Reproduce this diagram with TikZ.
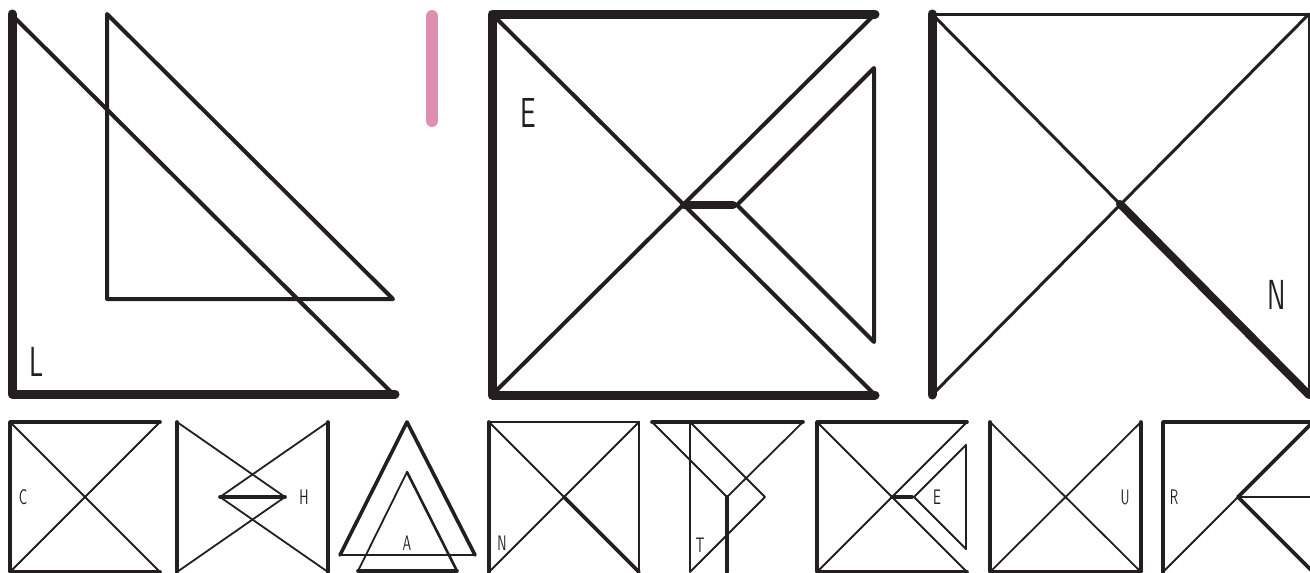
\documentclass[tikz,border=0pt]{standalone}
\usepackage{fontspec}
\usepackage{xcolor}
\newfontfamily\glyphfont{lmsans10-regular.otf}[FakeStretch=0.62]
\definecolor{ink}{HTML}{231F20}
\definecolor{barpink}{HTML}{DE8FB2}

\begin{document}
\begin{tikzpicture}[
  x=1pt, y=-1pt, line cap=round, line join=round,
  heavy/.style={draw=ink, line width=9pt},
  midline/.style={draw=ink, line width=4pt},
  thinline/.style={draw=ink, line width=3pt},
  sheavy/.style={draw=ink, line width=3.6pt},
  smid/.style={draw=ink, line width=2.6pt},
  slight/.style={draw=ink, line width=1.8pt},
  biglabel/.style={font=\fontsize{42}{42}\selectfont\glyphfont, inner sep=0pt, text=ink},
  smalllabel/.style={font=\fontsize{21}{21}\selectfont\glyphfont, inner sep=0pt, text=ink},
]
  \useasboundingbox (0,0) rectangle (1310,573);
  \clip (0,0) rectangle (1310,573);

  % TOP ROW: L
  \draw[heavy] (12,14) -- (12,394) -- (395,394);
  \draw[midline] (13,16) -- (392,393);
  \draw[midline] (107,14) -- (107,299) -- (393,299) -- cycle;
  \node[biglabel] (bigl) at (37,362) {L};

  % pink bar
  \draw[barpink, line width=12pt] (432,16) -- (432,121);

  % TOP ROW: E
  \draw[heavy] (875,14) -- (492,14) -- (492,395) -- (875,395);
  \draw[midline] (492,14) -- (875,395);
  \draw[midline] (875,14) -- (492,395);
  \draw[heavy, line width=8pt] (684,205) -- (733,205);
  \draw[midline] (737,205) -- (874,68) -- (874,342) -- cycle;
  \node[biglabel] (bige) at (528,113) {E};

  % TOP ROW: N
  \draw[heavy] (932,14) -- (932,395);
  \draw[thinline] (932,14) -- (1309,14) -- (1309,395);
  \draw[thinline] (1309,14) -- (932,395);
  \draw[thinline] (932,14) -- (1120,204);
  \draw[heavy, line width=8pt] (1120,204) -- (1309,395);
  \node[biglabel] (bign) at (1277,295) {N};

  % BOTTOM ROW: C
  \draw[sheavy] (160,422) -- (10,422) -- (10,572) -- (160,572);
  \draw[slight] (10,422) -- (160,572);
  \draw[slight] (160,422) -- (10,572);
  \node[smalllabel] (smc) at (23,497) {C};

  % BOTTOM ROW: H
  \draw[sheavy] (177,422) -- (177,572);
  \draw[sheavy] (328,422) -- (328,572);
  \draw[slight] (177,422) -- (285,497) -- (177,572);
  \draw[slight] (328,422) -- (220,497) -- (328,572);
  \draw[sheavy] (220,497) -- (285,497);
  \node[smalllabel] (smh) at (304,497) {H};

  % BOTTOM ROW: A
  \draw[sheavy] (340,555) -- (407,422) -- (475,555);
  \draw[slight] (340,555) -- (475,555);
  \draw[slight] (358,571) -- (407,472);
  \draw[smid] (407,472) -- (457,571);
  \draw[sheavy] (358,571) -- (457,571);
  \node[smalllabel] (sma) at (407,543) {A};

  % BOTTOM ROW: N
  \draw[sheavy] (489,422) -- (489,572);
  \draw[slight] (489,422) -- (639,422);
  \draw[smid] (639,422) -- (639,572);
  \draw[slight] (489,422) -- (564,497);
  \draw[sheavy] (564,497) -- (639,572);
  \draw[slight] (639,422) -- (489,572);
  \node[smalllabel] (smn) at (502,543) {N};

  % BOTTOM ROW: T
  \draw[sheavy] (652,422) -- (803,422);
  \draw[slight] (652,422) -- (727,497) -- (803,422);
  \draw[sheavy] (727,497) -- (727,572);
  \draw[slight] (690,422) -- (765,497) -- (690,572) -- cycle;
  \node[smalllabel] (smt) at (700,545) {T};

  % BOTTOM ROW: E
  \draw[sheavy] (967,422) -- (817,422) -- (817,572) -- (967,572);
  \draw[slight] (817,422) -- (967,572);
  \draw[slight] (967,422) -- (817,572);
  \draw[sheavy] (892,497) -- (912,497);
  \draw[slight] (914,497) -- (966,445);
  \draw[slight] (914,497) -- (966,549);
  \draw[smid] (966,445) -- (966,549);
  \node[smalllabel] (sme) at (937,497) {E};

  % BOTTOM ROW: U
  \draw[sheavy] (990,422) -- (990,572) -- (1141,572) -- (1141,422);
  \draw[slight] (990,422) -- (1141,572);
  \draw[slight] (1141,422) -- (990,572);
  \node[smalllabel] (smu) at (1125,497) {U};

  % BOTTOM ROW: R
  \draw[sheavy] (1163,572) -- (1163,422) -- (1313,422);
  \draw[sheavy] (1238,497) -- (1313,422);
  \draw[sheavy] (1238,497) -- (1313,572);
  \draw[slight] (1238,497) -- (1313,497);
  \draw[slight] (1238,497) -- (1163,572);
  \node[smalllabel] (smr) at (1174,497) {R};

\end{tikzpicture}
\end{document}
